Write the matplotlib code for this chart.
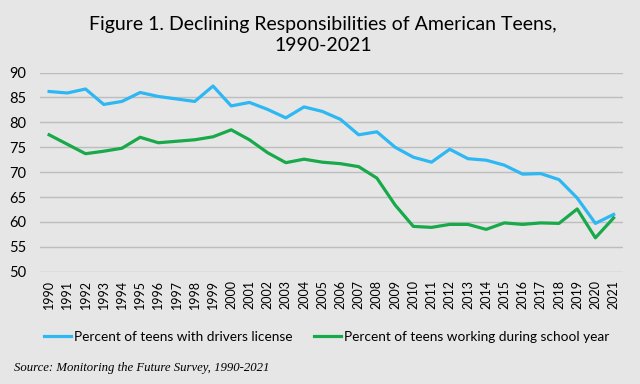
import matplotlib
matplotlib.use("Agg")
import matplotlib.pyplot as plt
import numpy as np

years = [str(y) for y in range(1990, 2022)]

# percent of teens with drivers license
license = [86.2, 85.9, 86.7, 83.6, 84.2, 86.0, 85.2, 84.7, 84.2, 87.3,
           83.3, 84.0, 82.6, 80.9, 83.1, 82.2, 80.6, 77.5, 78.1, 75.0,
           73.0, 72.0, 74.6, 72.7, 72.4, 71.4, 69.6, 69.7, 68.5, 64.8,
           59.7, 61.5]

# percent of teens working during school year
working = [77.5, 75.6, 73.7, 74.2, 74.8, 77.0, 75.9, 76.2, 76.5, 77.1,
           78.5, 76.5, 73.9, 71.9, 72.6, 72.0, 71.7, 71.1, 68.8, 63.4,
           59.1, 58.9, 59.5, 59.5, 58.5, 59.8, 59.5, 59.8, 59.7, 62.6,
           56.8, 60.8]

bg = '#E7E6E6'
plt.rcParams['font.family'] = ['Lato', 'DejaVu Sans']

fig = plt.figure(figsize=(6.4, 3.84), dpi=100, facecolor=bg)
ax = fig.add_axes([0.0625, 0.2925, 0.9105, 0.5185], facecolor=bg)

x = np.arange(len(years))
ax.plot(x, license, color='#2DB7F3', lw=2.3, label='Percent of teens with drivers license')
ax.plot(x, working, color='#17A94A', lw=2.3, label='Percent of teens working during school year')

ax.set_xlim(-0.5, len(years) - 0.5)
ax.set_ylim(50, 90)
ax.set_yticks(range(50, 91, 5))
ax.set_xticks(x)
ax.set_xticklabels(years, rotation=90, fontsize=9)
ax.tick_params(axis='y', labelsize=10.5, length=0, pad=10)
ax.tick_params(axis='x', length=0, pad=6)
ax.grid(axis='y', color='#BDBDBD', lw=1)
ax.set_axisbelow(True)
for s in ax.spines.values():
    s.set_visible(False)

fig.text(0.505, 1 - 35 / 384, 'Figure 1. Declining Responsibilities of American Teens,\n1990-2021',
         ha='center', va='center', fontsize=14, linespacing=1.25)

fig.legend(loc='center', bbox_to_anchor=(0.51, 1 - 337 / 384), ncol=2, frameon=False,
           fontsize=9.8, handlelength=2.0, handletextpad=0.2, columnspacing=1.6)

fig.text(14 / 640, 1 - 368 / 384, 'Source: Monitoring the Future Survey, 1990-2021',
         family='Liberation Serif', style='italic', fontsize=9.2, va='center')

fig.savefig('out.png', dpi=100, facecolor=bg)
